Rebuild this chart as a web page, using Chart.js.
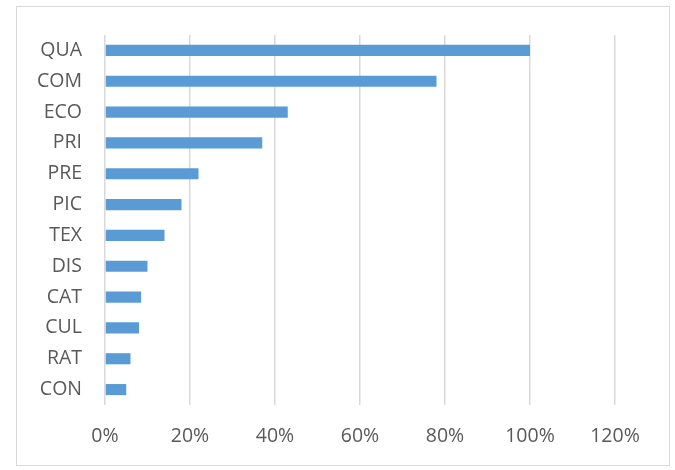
<!DOCTYPE html>
<html>
<head>
<meta charset="utf-8">
<script src="https://cdn.jsdelivr.net/npm/chart.js@4/dist/chart.umd.min.js"></script>
<style>
html,body{margin:0;padding:0;background:#fff;}
#wrap{position:relative;width:675px;height:470px;}
</style>
</head>
<body>
<div id="wrap"><canvas id="c" width="675" height="470"></canvas></div>
<script>
const categories = ["QUA","COM","ECO","PRI","PRE","PIC","TEX","DIS","CAT","CUL","RAT","CON"];
const shares = [100, 78, 43, 37, 22, 18, 14, 10, 8.5, 8, 6, 5];
const xTicks = [0, 20, 40, 60, 80, 100, 120];

const borderPlugin = {
  id: 'frame',
  beforeDraw(chart) {
    const ctx = chart.ctx;
    ctx.save();
    ctx.fillStyle = '#fff';
    ctx.fillRect(0, 0, chart.width, chart.height);
    ctx.strokeStyle = '#d9d9d9';
    ctx.lineWidth = 1;
    ctx.strokeRect(16.5, 6.5, 653, 459);
    ctx.restore();
  }
};

new Chart(document.getElementById('c'), {
  type: 'bar',
  data: {
    labels: categories,
    datasets: [{
      data: shares,
      backgroundColor: '#5b9bd5',
      borderWidth: 0,
      categoryPercentage: 0.36,
      barPercentage: 1
    }]
  },
  options: {
    indexAxis: 'y',
    responsive: false,
    animation: false,
    devicePixelRatio: 1,
    layout: { padding: { left: 0, right: 60, top: 35, bottom: 0 } },
    plugins: { legend: { display: false }, tooltip: { enabled: false } },
    scales: {
      x: {
        min: 0, max: 120,
        afterBuildTicks(scale) { scale.ticks = xTicks.map(v => ({ value: v })); },
        afterFit(scale) { scale.height = 65; },
        grid: { color: '#d9d9d9', lineWidth: 1.5, drawTicks: false },
        border: { display: false },
        ticks: {
          padding: 20,
          color: '#595959',
          font: { family: 'Open Sans', size: 19.5 },
          callback: v => v + '%'
        }
      },
      y: {
        afterFit(scale) { scale.width = 105; },
        grid: { display: false, drawTicks: false },
        border: { display: false },
        ticks: {
          padding: 23,
          color: '#595959',
          font: { family: 'Open Sans', size: 19.5 }
        }
      }
    }
  },
  plugins: [borderPlugin]
});
</script>
</body>
</html>
